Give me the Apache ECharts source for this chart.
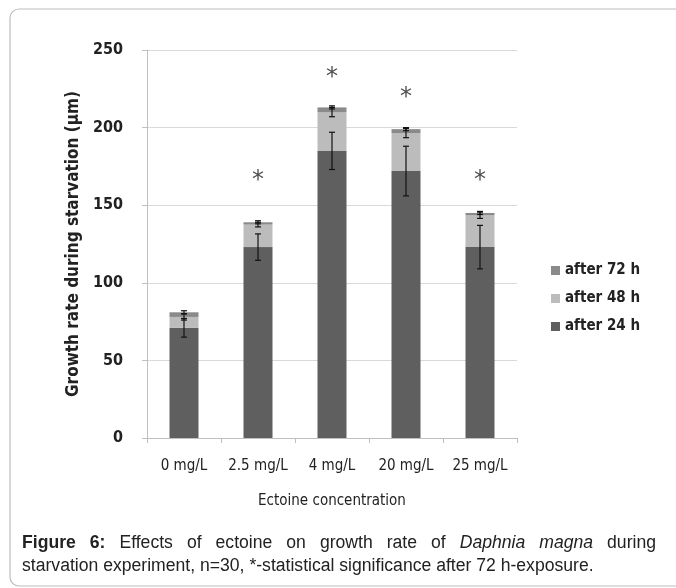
<!DOCTYPE html>
<html>
<head>
<meta charset="utf-8">
<script src="https://cdn.jsdelivr.net/npm/echarts@6/dist/echarts.min.js"></script>
<style>
  html, body { margin: 0; padding: 0; background: #fff; }
  #chart { position: absolute; left: 0; top: 0; width: 676px; height: 588px; }
  #caption {
    position: absolute; left: 22px; top: 531px; width: 634px;
    font-family: "Liberation Sans", Arial, sans-serif; font-size: 17.6px;
    line-height: 23px; color: #222;
  }
  #caption .l1 { text-align: justify; text-align-last: justify; white-space: nowrap; }
</style>
</head>
<body>
<div id="chart"></div>
<div id="caption"><div class="l1"><b>Figure 6:</b> Effects of ectoine on growth rate of <i>Daphnia magna</i> during</div><div>starvation experiment, n=30, *-statistical significance after 72 h-exposure.</div></div>
<script>
var categories = ['0 mg/L', '2.5 mg/L', '4 mg/L', '20 mg/L', '25 mg/L']
var after24 = [71, 123, 185, 172, 123]
var after48 = [7, 14.5, 25, 24.5, 20.5]
var after72 = [3, 1.5, 3, 2.5, 1.5]
var err24 = [6, 8.5, 12, 16, 14]
var err48 = [2, 1.5, 3, 3, 2]
var err72 = [1, 1, 1, 1, 1]
var starPos = [null, 166, 232, 219, 166]

var font = "'Liberation Sans Narrow', 'DejaVu Sans Condensed', sans-serif"

// error bars sit on top of each stacked segment
function errData(level) {
    var out = []
    for (var i = 0; i < categories.length; ++i) {
        var top = after24[i]
        var e = err24[i]
        if (level >= 2) { top += after48[i]; e = err48[i] }
        if (level >= 3) { top += after72[i]; e = err72[i] }
        out.push([i, top - e, top + e])
    }
    return out
}

function renderErr(params, api) {
    var lo = api.coord([api.value(0), api.value(1)])
    var hi = api.coord([api.value(0), api.value(2)])
    var w = 3
    var st = { stroke: '#111', lineWidth: 1.2 }
    return {
        type: 'group',
        children: [
            { type: 'line', shape: { x1: lo[0], y1: lo[1], x2: hi[0], y2: hi[1] }, style: st },
            { type: 'line', shape: { x1: lo[0] - w, y1: lo[1], x2: lo[0] + w, y2: lo[1] }, style: st },
            { type: 'line', shape: { x1: hi[0] - w, y1: hi[1], x2: hi[0] + w, y2: hi[1] }, style: st }
        ]
    }
}

function errSeries(level) {
    return {
        type: 'custom',
        renderItem: renderErr,
        data: errData(level),
        z: 10,
        silent: true
    }
}

var chart = echarts.init(document.getElementById('chart'))
var option = {
    animation: false,
    textStyle: { fontFamily: font },
    grid: { left: 147, right: 159, top: 50, bottom: 150 },
    graphic: [{
        type: 'rect',
        shape: { x: 10, y: 9, width: 700, height: 577, r: 9 },
        style: { fill: 'none', stroke: '#bdbdbd', lineWidth: 1.2 },
        silent: true
    }],
    legend: {
        data: ['after 72 h', 'after 48 h', 'after 24 h'],
        orient: 'vertical',
        left: 546,
        top: 258,
        icon: 'rect',
        itemWidth: 9,
        itemHeight: 9,
        itemGap: 13,
        textStyle: { fontFamily: font, fontSize: 15, fontWeight: 'bold', color: '#222' }
    },
    xAxis: {
        type: 'category',
        data: categories,
        name: 'Ectoine concentration',
        nameLocation: 'middle',
        nameGap: 56,
        nameTextStyle: { fontFamily: font, fontSize: 15, color: '#222' },
        axisLine: { lineStyle: { color: '#bfbfbf' } },
        axisTick: { show: true, length: 5, lineStyle: { color: '#bfbfbf' } },
        axisLabel: { interval: 0, fontFamily: font, fontSize: 15, color: '#222', margin: 21 }
    },
    yAxis: {
        type: 'value',
        min: 0,
        max: 250,
        interval: 50,
        name: 'Growth rate during starvation (µm)',
        nameLocation: 'middle',
        nameGap: 42,
        nameTextStyle: { fontFamily: font, fontSize: 17, fontWeight: 'bold', color: '#222' },
        axisLine: { show: true, lineStyle: { color: '#bfbfbf' } },
        axisTick: { show: true, length: 5, lineStyle: { color: '#bfbfbf' } },
        axisLabel: { fontFamily: font, fontSize: 16, fontWeight: 'bold', color: '#222', margin: 24 },
        splitLine: { lineStyle: { color: '#d9d9d9', width: 1.2 } }
    },
    series: [
        { name: 'after 24 h', type: 'bar', stack: 'g', data: after24, barWidth: 29, itemStyle: { color: '#5f5f5f' } },
        { name: 'after 48 h', type: 'bar', stack: 'g', data: after48, barWidth: 29, itemStyle: { color: '#bcbcbc' } },
        { name: 'after 72 h', type: 'bar', stack: 'g', data: after72, barWidth: 29, itemStyle: { color: '#8a8a8a' } },
        errSeries(1),
        errSeries(2),
        errSeries(3),
        {
            type: 'scatter',
            data: starPos,
            symbolSize: 1,
            itemStyle: { color: 'rgba(0,0,0,0)' },
            label: {
                show: true,
                position: 'inside',
                formatter: '*',
                fontFamily: 'DejaVu Sans',
                fontSize: 24,
                color: '#222'
            },
            silent: true
        }
    ]
}
chart.setOption(option)
</script>
</body>
</html>
